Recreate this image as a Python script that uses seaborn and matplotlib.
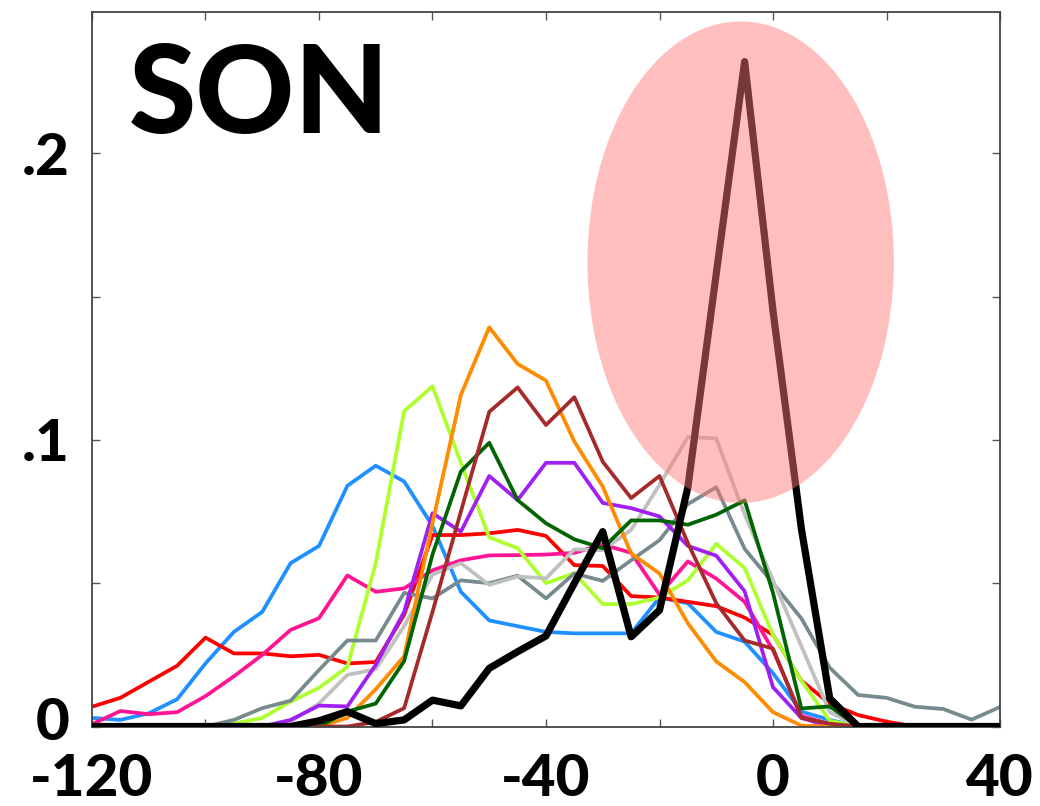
import numpy as np
import pandas as pd
import seaborn as sns
import matplotlib
matplotlib.use("Agg")
import matplotlib.pyplot as plt
import matplotlib.transforms as mtransforms
from matplotlib.patches import Ellipse

# ---- data -------------------------------------------------------------
x_vals = list(range(-120, 45, 5))

blue = [.003, .0023, .0046, .0095, .022, .033, .040, .057, .063, .084, .091, .0855,
        .070, .047, .037, .035, .033, .0325, .0325, .0325, .045, .043, .033, .0296,
        .0186, .0052, .0023, 0, 0, 0, 0, 0, 0]
red = [.0069, .010, .0156, .0212, .031, .0255, .0255, .0245, .025, .022, .0225, .039,
       .0668, .0668, .0674, .0686, .0665, .0563, .056, .0455, .045, .0435, .042, .038,
       .032, .016, .008, .004, .0017, 0, 0, 0, 0]
pink = [.0008, .0054, .0043, .005, .0106, .0175, .025, .0337, .0378, .0527, .047, .0482,
        .0545, .058, .0597, .0598, .060, .0606, .0635, .0606, .046, .0576, .0516, .0435,
        .0266, .0037, .0008, 0, 0, 0, 0, 0, 0]
greenyellow = [0, 0, 0, 0, 0, .001, .003, .0087, .0135, .0208, .057, .110,
               .1187, .092, .066, .0622, .050, .0535, .0427, .0427, .045, .051, .0637, .0553,
               .032, .016, .002, 0, 0, 0, 0, 0, 0]
slategray = [0, 0, 0, 0, 0, .0023, .0064, .009, .0197, .030, .030, .0466,
             .0447, .051, .050, .0526, .0447, .0534, .0508, .058, .065, .0776, .0835, .062,
             .050, .0377, .0205, .011, .0100, .0069, .0061, .0024, .0068]
silver = [0, 0, 0, 0, 0, 0, 0, .0017, .008, .018, .020, .035,
          .053, .057, .0494, .0523, .0517, .0618, .0615, .0686, .0843, .101, .1005, .074,
          .051, .028, .005, 0, 0, 0, 0, 0, 0]
purple = [0, 0, 0, 0, 0, 0, 0, .0023, .0073, .007, .0215, .040,
          .0744, .068, .0874, .079, .092, .092, .078, .0762, .0733, .063, .0596, .0472,
          .0137, .003, 0, 0, 0, 0, 0, 0, 0]
orange = [0, 0, 0, 0, 0, 0, 0, 0, 0, .003, .013, .0245,
          .071, .1157, .1393, .1265, .1207, .0994, .0837, .0604, .0534, .036, .0227, .0155,
          .005, .0003, 0, 0, 0, 0, 0, 0, 0]
darkgreen = [0, 0, 0, 0, 0, 0, 0, 0, 0, .0052, .008, .0228,
             .060, .089, .099, .079, .0709, .0653, .0622, .0719, .0719, .0704, .0739, .0789,
             .0466, .0063, .007, 0, 0, 0, 0, 0, 0]
brown = [0, 0, 0, 0, 0, 0, 0, 0, 0, 0, .0016, .0064,
         .040, .075, .1098, .1183, .1052, .1149, .0924, .0797, .0874, .064, .043, .030,
         .0272, .003, .001, 0, 0, 0, 0, 0, 0]
black = [0, 0, 0, 0, 0, 0, 0, 0, .002, .0052, .001, .0023,
         .0092, .0072, .0203, .0261, .0316, .050, .068, .0313, .0406, .0835, .158, .232,
         .145, .069, .0098, 0, 0, 0, 0, 0, 0]

series_names = ["blue", "red", "pink", "greenyellow", "slategray", "silver",
                "purple", "orange", "darkgreen", "brown", "black"]
series_values = [blue, red, pink, greenyellow, slategray, silver,
                 purple, orange, darkgreen, brown, black]
series_colors = ["#1E90FF", "#FF0000", "#FF1493", "#ADFF2F", "#778B8F", "#C0C0C0",
                 "#A020F0", "#FF8C00", "#006400", "#A52A2A", "#000000"]

x_ticks = [-120, -100, -80, -60, -40, -20, 0, 20, 40]
x_ticklabels = ["-120", "", "-80", "", "-40", "", "0", "", "40"]
y_ticks = [0, 0.05, 0.1, 0.15, 0.2]
y_ticklabels = ["0", "", ".1", "", ".2"]
title_text = "SON"

# ---- plot -------------------------------------------------------------
sns.set_theme(style="white")
plt.rcParams["font.family"] = ["Lato", "DejaVu Sans"]

fig = plt.figure(figsize=(10.4, 8.06), dpi=100)
ax = fig.add_axes([92 / 1040, 1 - 726.5 / 806, 908 / 1040, (726.5 - 12) / 806])

for name, vals, col in zip(series_names, series_values, series_colors):
    df = pd.DataFrame({"x": x_vals, "y": vals})
    lw = 5.2 if name == "black" else 2.7
    sns.lineplot(data=df, x="x", y="y", color=col, linewidth=lw, ax=ax,
                 zorder=3 if name == "black" else 2)

ell = Ellipse((-5.7, 0.162), 54.0, 0.168, facecolor=(1.0, 0.47, 0.47),
              alpha=0.47, edgecolor="none", zorder=5)
ax.add_patch(ell)

ax.set_xlim(-120, 40)
ax.set_ylim(0, 0.2493)
ax.set_xticks(x_ticks)
ax.set_xticklabels(x_ticklabels)
ax.set_yticks(y_ticks)
ax.set_yticklabels(y_ticklabels)
ax.set_xlabel("")
ax.set_ylabel("")

for lab in ax.get_xticklabels() + ax.get_yticklabels():
    lab.set_fontsize(42)
    lab.set_fontweight("black")
    lab.set_color("black")

ax.tick_params(axis="both", which="both", direction="in", length=6, width=1.0,
               color="#555555", top=True, right=True, bottom=True, left=True,
               labeltop=False, labelright=False)
ax.tick_params(axis="x", pad=19)
ax.tick_params(axis="y", pad=16)

# nudge the "0" y label slightly upward, as in the reference
ylab0 = ax.get_yticklabels()[0]
ylab0.set_transform(ylab0.get_transform() +
                    mtransforms.ScaledTranslation(0, 8 / 100, fig.dpi_scale_trans))

for sp in ax.spines.values():
    sp.set_visible(True)
    sp.set_color("#444444")
    sp.set_linewidth(1.3)

ax.text(0.04, 0.958, title_text, transform=ax.transAxes, fontsize=88,
        fontweight="black", va="top", ha="left", color="black")

fig.savefig("out.png", dpi=100, facecolor="white")
